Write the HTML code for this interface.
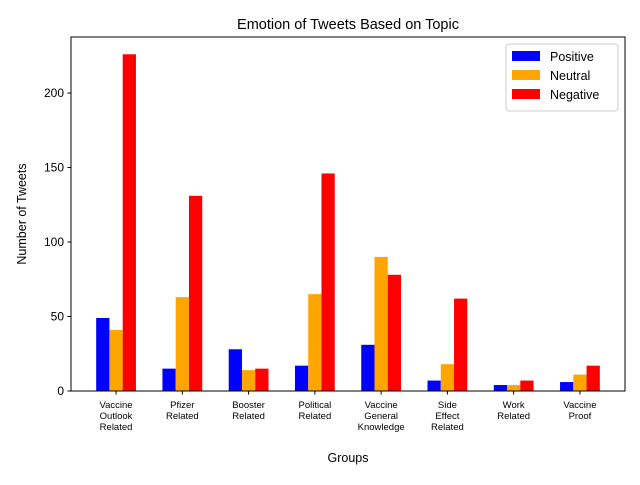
<!DOCTYPE html>
<html><head><meta charset="utf-8"><style>
body{margin:0;background:#fff;font-family:"Liberation Sans","DejaVu Sans",sans-serif}
</style></head><body>
<svg id="chart" width="640" height="480" xmlns="http://www.w3.org/2000/svg"></svg>
<script>
const categories=[["Vaccine","Outlook","Related"],["Pfizer","Related"],["Booster","Related"],["Political","Related"],["Vaccine","General","Knowledge"],["Side","Effect","Related"],["Work","Related"],["Vaccine","Proof"]];
const positive=[49,15,28,17,31,7,4,6];
const neutral=[41,63,14,65,90,18,4,11];
const negative=[226,131,15,146,78,62,7,17];
const yTicks=[0,50,100,150,200];
const seriesNames=["Positive","Neutral","Negative"];
const colors=["#0000ff","#ffa500","#ff0000"];
const L=71,R=625,T=37,B=391;
const xmin=-0.68,xmax=7.68,ymax=237.6;
const xs=v=>L+(v-xmin)/(xmax-xmin)*(R-L);
const ys=v=>B-v/ymax*(B-T);
const svg=document.getElementById('chart');
const NS="http://www.w3.org/2000/svg";
function mk(t,a,txt){const e=document.createElementNS(NS,t);for(const k in a)e.setAttribute(k,a[k]);if(txt!==undefined)e.textContent=txt;svg.appendChild(e);return e;}
const series=[positive,neutral,negative];
series.forEach((s,si)=>{s.forEach((v,i)=>{const x0=xs(i+(si-1)*0.2-0.1),x1=xs(i+(si-1)*0.2+0.1);
const r=mk('rect',{x:x0,y:ys(v),width:x1-x0,height:B-ys(v),fill:colors[si]});

});});
const ax=mk('rect',{x:L,y:T,width:R-L,height:B-T,fill:'none',stroke:'#000','stroke-width':1});

yTicks.forEach(v=>{const y=ys(v);mk('line',{x1:L-3.5,x2:L,y1:y,y2:y,stroke:'#000'});
const t=mk('text',{x:L-7,y:y+4,'text-anchor':'end','font-size':12},v);
});
categories.forEach((c,i)=>{const x=xs(i);mk('line',{x1:x,x2:x,y1:B,y2:B+3.5,stroke:'#000'});
c.forEach((w,j)=>{const t=mk('text',{x:x,y:B+17+j*11,'text-anchor':'middle','font-size':9.5},w);
});});
let t=mk('text',{x:(L+R)/2,y:29,'text-anchor':'middle','font-size':14.5},'Emotion of Tweets Based on Topic');

t=mk('text',{x:(L+R)/2,y:462,'text-anchor':'middle','font-size':12.5},'Groups');

t=mk('text',{x:26,y:(T+B)/2,'text-anchor':'middle','font-size':12.5,transform:'rotate(-90 26 '+(T+B)/2+')'},'Number of Tweets');

const lg=mk('rect',{x:506,y:44,width:112,height:67,fill:'#fff',stroke:'#ccc',rx:3});

seriesNames.forEach((n,i)=>{const y=51+i*19;mk('rect',{x:512,y:y,width:28,height:10,fill:colors[i]});
const e=mk('text',{x:550,y:y+10,'font-size':12.5},n);
});
</script>
</body></html>
